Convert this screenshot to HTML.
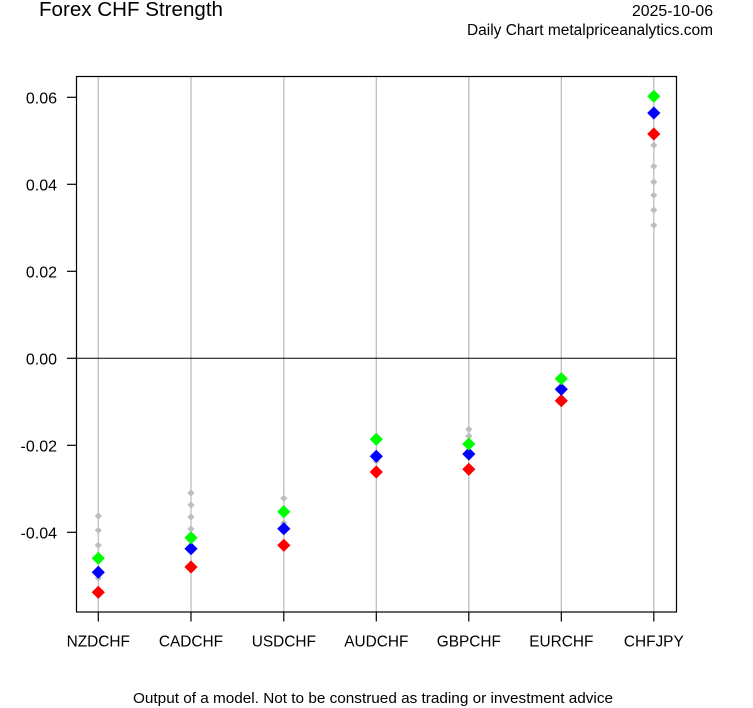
<!DOCTYPE html>
<html><head><meta charset="utf-8"><style>
html,body{margin:0;padding:0;background:#fff;}
svg{display:block;font-family:"Liberation Sans",Arial,sans-serif;}
</style></head><body>
<svg width="753" height="708" viewBox="0 0 753 708" xmlns="http://www.w3.org/2000/svg">
<rect width="753" height="708" fill="#fff"/>
<text x="39" y="16" font-size="20" textLength="184" lengthAdjust="spacingAndGlyphs">Forex CHF Strength</text>
<text x="632" y="16" font-size="16" textLength="81" lengthAdjust="spacingAndGlyphs">2025-10-06</text>
<text x="467" y="35" font-size="15.5" textLength="246" lengthAdjust="spacingAndGlyphs">Daily Chart metalpriceanalytics.com</text>
<text x="133" y="703" font-size="15" textLength="480" lengthAdjust="spacingAndGlyphs">Output of a model. Not to be construed as trading or investment advice</text>

<g stroke="#BEBEBE" stroke-width="1.3">
<line x1="98.3" y1="76" x2="98.3" y2="612"/>
<line x1="191" y1="76" x2="191" y2="612"/>
<line x1="283.8" y1="76" x2="283.8" y2="612"/>
<line x1="376.3" y1="76" x2="376.3" y2="612"/>
<line x1="468.8" y1="76" x2="468.8" y2="612"/>
<line x1="561.3" y1="76" x2="561.3" y2="612"/>
<line x1="653.8" y1="76" x2="653.8" y2="612"/>
</g>
<line x1="76.5" y1="358.3" x2="676.5" y2="358.3" stroke="#000" stroke-width="1"/>
<rect x="76.5" y="76.5" width="600" height="535.5" fill="none" stroke="#000" stroke-width="1.2"/>

<g stroke="#000" stroke-width="1.2">
<line x1="67" y1="97.3" x2="76.5" y2="97.3"/>
<line x1="67" y1="184.3" x2="76.5" y2="184.3"/>
<line x1="67" y1="271.3" x2="76.5" y2="271.3"/>
<line x1="67" y1="358.3" x2="76.5" y2="358.3"/>
<line x1="67" y1="445.3" x2="76.5" y2="445.3"/>
<line x1="67" y1="532.3" x2="76.5" y2="532.3"/>
<line x1="98.3" y1="612" x2="98.3" y2="621.5"/>
<line x1="191" y1="612" x2="191" y2="621.5"/>
<line x1="283.8" y1="612" x2="283.8" y2="621.5"/>
<line x1="376.3" y1="612" x2="376.3" y2="621.5"/>
<line x1="468.8" y1="612" x2="468.8" y2="621.5"/>
<line x1="561.3" y1="612" x2="561.3" y2="621.5"/>
<line x1="653.8" y1="612" x2="653.8" y2="621.5"/>
</g>
<g font-size="16" text-anchor="end">
<text x="57" y="103.5">0.06</text>
<text x="57" y="190.5">0.04</text>
<text x="57" y="277.5">0.02</text>
<text x="57" y="364.5">0.00</text>
<text x="57" y="451.5">-0.02</text>
<text x="57" y="538.5">-0.04</text>
</g>
<g font-size="15.4" text-anchor="middle">
<text x="98.3" y="646.5">NZDCHF</text>
<text x="191" y="646.5">CADCHF</text>
<text x="283.8" y="646.5">USDCHF</text>
<text x="376.3" y="646.5">AUDCHF</text>
<text x="468.8" y="646.5">GBPCHF</text>
<text x="561.3" y="646.5">EURCHF</text>
<text x="653.8" y="646.5">CHFJPY</text>
</g>

<defs>
<polygon id="s" points="0,-3.6 3.6,0 0,3.6 -3.6,0" fill="#BEBEBE"/>
<polygon id="b" points="0,-6.6 6.6,0 0,6.6 -6.6,0"/>
</defs>
<g>
<use href="#s" x="98.3" y="516"/><use href="#s" x="98.3" y="530.3"/><use href="#s" x="98.3" y="545.3"/><use href="#s" x="98.3" y="578"/>
<use href="#s" x="191" y="493"/><use href="#s" x="191" y="505"/><use href="#s" x="191" y="517"/><use href="#s" x="191" y="529"/><use href="#s" x="191" y="541"/>
<use href="#s" x="283.8" y="498.3"/><use href="#s" x="283.8" y="523"/>
<use href="#s" x="376.3" y="461"/>
<use href="#s" x="468.8" y="429.3"/><use href="#s" x="468.8" y="436"/>
<use href="#s" x="561.3" y="376"/>
<use href="#s" x="653.8" y="145.3"/><use href="#s" x="653.8" y="166.3"/><use href="#s" x="653.8" y="182"/><use href="#s" x="653.8" y="195.3"/><use href="#s" x="653.8" y="210"/><use href="#s" x="653.8" y="225.3"/>
</g>
<g fill="#FF0000">
<use href="#b" x="98.3" y="592.3"/><use href="#b" x="191" y="567"/><use href="#b" x="283.8" y="545.3"/><use href="#b" x="376.3" y="472"/><use href="#b" x="468.8" y="469.3"/><use href="#b" x="561.3" y="400.7"/><use href="#b" x="653.8" y="134"/>
</g>
<g fill="#0000FF">
<use href="#b" x="98.3" y="572.3"/><use href="#b" x="191" y="548.7"/><use href="#b" x="283.8" y="528.7"/><use href="#b" x="376.3" y="456.3"/><use href="#b" x="468.8" y="454"/><use href="#b" x="561.3" y="389.3"/><use href="#b" x="653.8" y="113"/>
</g>
<g fill="#00FF00">
<use href="#b" x="98.3" y="558.3"/><use href="#b" x="191" y="537.7"/><use href="#b" x="283.8" y="511.7"/><use href="#b" x="376.3" y="439.3"/><use href="#b" x="468.8" y="444"/><use href="#b" x="561.3" y="378.7"/><use href="#b" x="653.8" y="96.3"/>
</g>
</svg>
</body></html>
